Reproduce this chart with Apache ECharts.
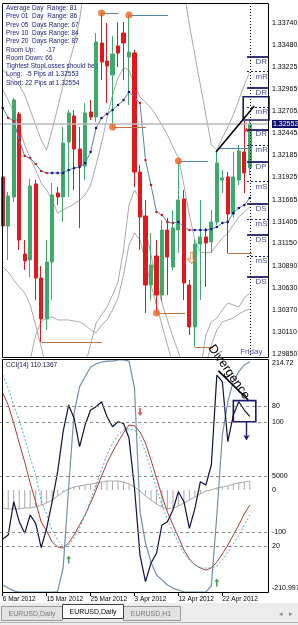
<!DOCTYPE html>
<html>
<head>
<meta charset="utf-8">
<script src="https://cdn.jsdelivr.net/npm/echarts@6/dist/echarts.min.js"></script>
<style>
html,body{margin:0;padding:0;background:#fff;overflow:hidden;}
#chart{width:298px;height:625px;}
</style>
</head>
<body>
<div id="chart"></div>
<script>
// ---------------- DATA ----------------
const dates = ['6 Mar 2012','7 Mar 2012','8 Mar 2012','9 Mar 2012','11 Mar 2012','12 Mar 2012','13 Mar 2012','14 Mar 2012','15 Mar 2012','16 Mar 2012','18 Mar 2012','19 Mar 2012','20 Mar 2012','21 Mar 2012','22 Mar 2012','23 Mar 2012','25 Mar 2012','26 Mar 2012','27 Mar 2012','28 Mar 2012','29 Mar 2012','30 Mar 2012','1 Apr 2012','2 Apr 2012','3 Apr 2012','4 Apr 2012','5 Apr 2012','6 Apr 2012','8 Apr 2012','9 Apr 2012','10 Apr 2012','11 Apr 2012','12 Apr 2012','13 Apr 2012','15 Apr 2012','16 Apr 2012','17 Apr 2012','18 Apr 2012','19 Apr 2012','20 Apr 2012','22 Apr 2012','23 Apr 2012','24 Apr 2012','25 Apr 2012','26 Apr 2012','27 Apr 2012'];

// [open, close, low, high]
const candles = [
[1.31931,1.31356,1.31016,1.32095],[1.31356,1.31708,1.30958,1.31755],[1.31696,1.32834,1.31638,1.32857],
[1.32669,1.31192,1.31075,1.32693],[1.31028,1.30946,1.30840,1.31192],[1.30958,1.31825,1.30758,1.31907],
[1.31849,1.30746,1.30489,1.31896],[1.30746,1.30266,1.29996,1.30887],[1.30266,1.30934,1.30137,1.31192],
[1.30934,1.31720,1.30489,1.31860],[1.31743,1.31696,1.31602,1.31813],[1.31696,1.32329,1.31403,1.32517],
[1.32341,1.32681,1.31696,1.32716],[1.32646,1.32259,1.31778,1.32716],[1.32259,1.32060,1.31333,1.32517],
[1.32060,1.32681,1.31896,1.32798],[1.32693,1.32634,1.32599,1.32834],[1.32634,1.33514,1.32576,1.33619],
[1.33502,1.33279,1.33068,1.33854],[1.33291,1.33232,1.32798,1.33736],[1.33127,1.33373,1.32517,1.33584],
[1.33467,1.33385,1.33220,1.33748],[1.33619,1.33502,1.33068,1.33748],[1.33338,1.33396,1.32775,1.33830],
[1.33385,1.31989,1.31813,1.33420],[1.31989,1.31462,1.31075,1.32071],[1.31473,1.30664,1.30336,1.31661],
[1.30664,1.30899,1.30489,1.31274],[1.31004,1.30547,1.30336,1.31192],[1.30547,1.31309,1.30465,1.31427],
[1.31309,1.30993,1.30547,1.31450],[1.30875,1.31333,1.30840,1.31544],[1.31309,1.31661,1.31040,1.32118],
[1.31673,1.30688,1.30489,1.31778],[1.30664,1.30172,1.30078,1.30723],[1.30172,1.31145,1.29937,1.31192],
[1.31145,1.31227,1.30489,1.31661],[1.31227,1.31157,1.30641,1.31333],[1.31169,1.31403,1.31040,1.31544],
[1.31403,1.32095,1.31368,1.32224],[1.31896,1.31919,1.31743,1.32013],[1.31931,1.31497,1.31040,1.31989],
[1.31497,1.31931,1.31450,1.32224],[1.31896,1.32236,1.31837,1.32306],[1.32224,1.31978,1.31743,1.32587],
[1.32036,1.32552,1.31954,1.32587]
];

const maLine = [1.32740,1.32623,1.32587,1.32365,1.32177,1.32153,1.32083,1.32001,1.31978,1.31978,1.31978,1.31978,1.32013,1.32036,1.32048,1.32095,1.32224,1.32505,1.32623,1.32669,1.32716,1.32775,1.32834,1.32927,1.32869,1.32798,1.32130,1.31837,1.31520,1.31485,1.31403,1.31391,1.31403,1.31344,1.31309,1.31309,1.31309,1.31309,1.31321,1.31344,1.31391,1.31403,1.31509,1.31567,1.31602,1.31684];

const bandA = [1.33185,1.33127,1.33068,1.33009,1.32892,1.32716,1.32540,1.32365,1.32248,1.32482,1.32740,1.33009,1.33244,1.33478,1.33772,1.34241,null,null,null,null,null,null,null,null,null,null,null,null,null,null,null,null,null,1.34123,1.33713,1.33361,1.33009,1.32658,1.32306,1.32248,1.32388,1.32517,1.32658,1.32834,1.33009,1.33162];
const bandB = [1.32951,1.32834,1.32693,1.32505,1.32306,1.32153,1.32013,1.31860,1.31778,1.31661,1.31509,1.31544,1.31579,1.31614,1.31661,1.31720,1.31837,1.32071,1.32329,1.32623,1.32892,1.33091,1.33209,1.33185,1.33009,1.32869,1.32810,1.32740,1.32646,1.32540,1.32423,1.32282,1.32153,1.31837,1.31485,1.31192,1.31051,1.31040,1.31051,1.31133,1.31215,1.31274,1.31368,1.31462,1.31520,1.31579];
const bandC = [1.30875,1.30817,1.30723,1.30641,1.30571,1.30430,1.30195,1.29938,1.29668,null,null,null,null,null,null,1.29727,1.29961,1.30219,1.30313,1.30406,1.30547,1.30700,1.31075,1.31602,1.31778,1.31661,1.31333,1.31016,1.30723,1.30453,1.30254,1.30055,1.29879,1.29668,null,null,1.29668,1.30078,1.30231,1.30277,1.30371,1.30453,1.30430,1.30406,1.30512,1.30571];
const bandD = [null,null,null,null,null,1.29785,1.30078,1.30231,1.30277,1.30289,1.30254,1.30254,1.30254,1.30242,1.30231,1.30195,1.30137,1.30102,1.30195,1.30254,1.30371,1.30512,1.30782,1.31133,1.31274,1.31192,1.30934,1.30664,1.30430,1.30195,1.29961,1.29727,null,null,null,null,null,1.29727,1.29961,1.30137,1.30231,1.30254,1.30277,1.30324,1.30359,1.30383];

const priceTicks = ['1.33740','1.33480','1.33225','1.32965','1.32705','1.32445','1.32185','1.31925','1.31665','1.31405','1.31150','1.30890','1.30630','1.30370','1.30110','1.29850'];
const currentPrice = 1.32552;

const pivotNames  = ['DR','mR','DR','mR','DR','mR','DP','mS','DS','mS','DS','mS','DS'];
const pivotLevels = [1.33341,1.33165,1.32982,1.32748,1.32490,1.32306,1.32110,1.31876,1.31622,1.31438,1.31251,1.31004,1.30762];

const swingHighs = [[18,1.33854],[23,1.33830],[32,1.32118]];
const swingLows  = [[20,1.32517],[28,1.30336]];
const highLines = [[18,21.1,1.33854],[23,30.1,1.33830],[32,37.4,1.32118],[39.2,45,1.32267]];
const lowLines  = [[20,26.1,1.32517],[28,33.2,1.30336],[7,18.1,1.29996],[35,38.3,1.29937],[41,45.4,1.31040]];
const trendLine = [[38.85,1.32224],[45.82,1.32763]];
const boxMain = [[43.8,1.32872],[48.68,1.32599]];
const lastBar = 45;

const infoLines = ['Average Day  Range: 81','Prev 01  Day  Range: 86','Prev 05  Days Range: 67','Prev 10  Days Range: 84','Prev 20  Days Range: 87','Room Up:      -17','Room Down: 66','Tightest StopLosses should be :','Long:  -5 Pips at 1.32553','Short: 22 Pips at 1.32554'];

// lower panel
const cci = [-112.8,-105.5,-44.9,-81.3,-102.4,-69.1,-84.2,-128.6,-93.3,-44.9,9.7,82.5,131.0,106.8,55.2,94.6,121.9,127.9,137.0,109.7,91.5,100.6,97.7,70.4,-20.5,-141.9,-190.4,-157.0,-138.8,-87.3,-81.3,-60.0,-26.7,-44.9,-93.3,-56.9,-8.5,-14.5,21.9,185.6,173.4,64.3,112.8,137.0,121.9,110.1367];
const oscBlue = [3.4,2.1,0.9,0.4,0.4,0.4,0.4,0.4,0.4,0.4,0.6,10.7,44.9,76.9,88.2,92.4,96.6,97.9,98.7,99.1,99.1,99.6,99.6,99.1,87.6,34.7,21.4,13.2,7.7,5.6,3.4,2.1,1.3,0.4,0.4,0.4,0.4,0.4,3.1,33.3,67.5,81.8,90.3,94.6,97.4,98.8];
const oscRed = [85.5,80.3,72.6,64.1,56.0,47.0,38.9,30.3,26.5,21.8,19.7,19.2,21.4,24.8,29.1,33.3,38.5,44.0,50.0,55.6,60.3,64.5,68.4,71.8,71.4,68.8,64.1,56.8,49.1,41.5,34.6,29.1,23.9,18.4,14.5,12.0,10.7,9.8,10.7,13.2,16.7,20.5,24.8,29.1,33.8,37.6];
const oscCyan = [93.2,87.6,80.3,73.9,66.2,57.7,50.4,39.7,33.3,26.9,22.6,20.1,20.5,23.5,27.8,33.3,39.7,46.2,52.6,59.0,64.1,67.5,69.7,70.1,69.7,66.2,60.3,52.6,44.9,37.6,31.2,26.1,21.4,17.1,14.1,12.0,10.7,10.7,10.7,11.5,14.1,17.5,20.9,24.8,29.1,33.3];
const hist = [-0.0009,-0.00095,-0.00095,-0.00095,-0.0009,-0.0009,-0.00085,-0.00075,-0.00065,-0.0005,-0.0003,-0.0001,0.00005,0.00015,0.0002,0.00025,0.0003,0.00035,0.0004,0.00045,0.00045,0.00045,0.0004,0.0003,0.00015,-0.00005,-0.0003,-0.0005,-0.0007,-0.00085,-0.00095,-0.0009,-0.0008,-0.00065,-0.0005,-0.00035,-0.0002,-0.00005,0,0.0001,0.00015,0.0002,0.0003,0.00035,0.0004,0.00045];

const oscLevels = [{v:80,t:'80'},{v:50,t:'5000'},{v:20,t:'20'}];
const cciLevels = [{v:100,t:'100'},{v:-100,t:'-100'}];
const cciMax = 214.72, cciMin = -210.997;
const cciTitle = 'CCI(14) 110.1367';
const divLine = [[39.3,94.9],[44.7,82.5]];
const divBox = [[42.0,82.2],[46.1,73.2]];
const divArrow = [[44.4,73.2],[44.4,65.4]];
const upArrows = [[12,14.3],[39,4.5]];
const downArrows = [[25,77.4]];

// ---------------- CHART ----------------
const FONT = '"Liberation Sans", Arial, sans-serif';
const NAVY = '#1c1c6e';
const cats = dates.concat(['','','']);
const NCAT = cats.length;

function grayLine(d){
  return {type:'line', xAxisIndex:0, yAxisIndex:0, data:d, symbol:'none', connectNulls:false,
    lineStyle:{color:'#a9a9a9', width:1}, z:1, silent:true};
}

const maData = maLine.map((v,i)=>{
  const prev = i===0 ? v : maLine[i-1];
  return {value:v, itemStyle:{color: v < prev ? '#c42020' : '#12127e'}};
});

const mlMain = [];
priceTicks.forEach(t=>mlMain.push({yAxis:parseFloat(t), lineStyle:{color:'rgba(0,0,0,0)', width:0},
  label:{show:true, position:'end', distance:3, formatter:t, fontSize:7, color:'#000', fontFamily:FONT}}));
mlMain.push({yAxis:currentPrice, lineStyle:{color:'#b8b8b8', width:1.5, type:'solid'},
  label:{show:true, position:'end', distance:3, formatter:currentPrice.toFixed(5), fontSize:7, color:'#fff',
    backgroundColor:'#0d0d6b', padding:[1,1,0,1], fontFamily:FONT}});
pivotLevels.forEach((p,i)=>{
  const solid = pivotNames[i][0] === 'D';
  mlMain.push([{coord:[44.5,p], lineStyle:{color:NAVY, width: solid?1.8:1, type: solid?'solid':[2,2]}},{coord:[48.5,p]}]);
});
highLines.forEach(l=>mlMain.push([{coord:[l[0],l[2]], lineStyle:{color:'#4f86ad', width:1, type:'solid'}},{coord:[l[1],l[2]]}]));
lowLines.forEach(l=>mlMain.push([{coord:[l[0],l[2]], lineStyle:{color:'#c4743e', width:1, type:'solid'}},{coord:[l[1],l[2]]}]));
mlMain.push([{coord:trendLine[0], lineStyle:{color:'#000', width:1.6, type:'solid'}},{coord:trendLine[1]}]);
mlMain.push({xAxis:lastBar, lineStyle:{color:'#000', width:1, type:[1,2]}});

const textMarks = [];
pivotLevels.forEach((p,i)=>textMarks.push({value:[45.95,p], label:{show:true, formatter:pivotNames[i], position:'right', distance:0, offset:[0,5], color:NAVY, fontSize:8, fontFamily:FONT}}));
textMarks.push({value:[47.4,1.29879], label:{show:true, formatter:'Friday', position:'left', distance:0, color:NAVY, fontSize:8, fontFamily:FONT}});
textMarks.push({value:[44.4,1.32447], label:{show:true, formatter:'*', position:'inside', color:'#e01010', fontSize:11, fontWeight:'bold', fontFamily:FONT}});

const mlOsc = oscLevels.map(l=>({yAxis:l.v, lineStyle:{color:'#8a8a8a', width:1, type:[3,3]},
  label:{show:true, position:'end', distance:3, formatter:l.t, fontSize:7, color:'#000', fontFamily:FONT}}));
const mlCci = cciLevels.map(l=>({yAxis:l.v, lineStyle:{color:'#8a8a8a', width:1, type:[3,3]},
  label:{show:true, position:'end', distance:3, formatter:l.t, fontSize:7, color:'#000', fontFamily:FONT}}));
mlCci.push({yAxis:cciMax, lineStyle:{color:'rgba(0,0,0,0)', width:0}, label:{show:true, position:'end', distance:3, offset:[0,4], formatter:String(cciMax), fontSize:7, color:'#000', fontFamily:FONT}});
mlCci.push({yAxis:cciMin, lineStyle:{color:'rgba(0,0,0,0)', width:0}, label:{show:true, position:'end', distance:3, offset:[0,-5], formatter:String(cciMin), fontSize:7, color:'#000', fontFamily:FONT}});

const ARROW = 'path://M5,0 L10,5 L6.6,5 L6.6,12 L3.4,12 L3.4,5 L0,5 Z';
const oscMarks = upArrows.map(p=>({value:p, symbolRotate:0, itemStyle:{color:'#1d8a3c'}}))
  .concat(downArrows.map(p=>({value:p, symbolRotate:180, itemStyle:{color:'#e02020'}})));

const graphics = [];
infoLines.forEach((t,i)=>graphics.push({type:'text', x:6, y:8.3+i*8.3, z:100, silent:true,
  style:{text:t, fill:'#1a1a7a', font:'6.5px '+FONT, verticalAlign:'middle'}}));
graphics.push({type:'text', x:6, y:365, z:100, silent:true, style:{text:cciTitle, fill:'#141440', font:'6.5px '+FONT, verticalAlign:'middle'}});
graphics.push({type:'rect', z:100, silent:true, shape:{x:2.5,y:3.5,width:266,height:354}, style:{fill:'none', stroke:'#000', lineWidth:1}});
graphics.push({type:'rect', z:100, silent:true, shape:{x:2.5,y:359.5,width:266,height:233}, style:{fill:'none', stroke:'#000', lineWidth:1}});
graphics.push({type:'text', x:229, y:372, rotation:-55*Math.PI/180, z:101, silent:true,
  style:{text:'Divergence', fill:'#000', font:'12.5px '+FONT, align:'center', verticalAlign:'middle'}});
// tab bar
graphics.push({type:'rect', z:90, silent:true, shape:{x:0,y:603,width:298,height:22}, style:{fill:'#ececec'}});
graphics.push({type:'rect', z:91, silent:true, shape:{x:1.5,y:606.5,width:61,height:14}, style:{fill:'#e2e2e2', stroke:'#9a9a9a', lineWidth:1}});
graphics.push({type:'text', x:32, y:614, z:92, silent:true, style:{text:'EURUSD,Daily', fill:'#7a7a7a', font:'7px '+FONT, align:'center', verticalAlign:'middle'}});
graphics.push({type:'rect', z:91, silent:true, shape:{x:123.5,y:606.5,width:57,height:14}, style:{fill:'#e2e2e2', stroke:'#9a9a9a', lineWidth:1}});
graphics.push({type:'text', x:151, y:614, z:92, silent:true, style:{text:'EURUSD,H1', fill:'#7a7a7a', font:'7px '+FONT, align:'center', verticalAlign:'middle'}});
graphics.push({type:'rect', z:93, silent:true, shape:{x:62.5,y:604.5,width:61,height:14}, style:{fill:'#fff', stroke:'#404040', lineWidth:1}});
graphics.push({type:'text', x:93, y:612, z:94, silent:true, style:{text:'EURUSD,Daily', fill:'#000', font:'7px '+FONT, align:'center', verticalAlign:'middle'}});
graphics.push({type:'text', x:281, y:614, z:92, silent:true, style:{text:'◂', fill:'#888', font:'7px '+FONT, align:'center', verticalAlign:'middle'}});
graphics.push({type:'text', x:291, y:614, z:92, silent:true, style:{text:'▸', fill:'#888', font:'7px '+FONT, align:'center', verticalAlign:'middle'}});
graphics.push({type:'line', z:92, silent:true, shape:{x1:0,y1:622.5,x2:298,y2:622.5}, style:{stroke:'#b4b4b4', lineWidth:1}});

const labelInterval = (i)=> i % 8 === 0 && i < dates.length;

const option = {
  animation:false,
  backgroundColor:'#fff',
  textStyle:{fontFamily:FONT},
  grid:[
    {left:0, top:3, width:269, height:355, containLabel:false, outerBoundsMode:'none'},
    {left:0, top:359, width:269, height:234, containLabel:false, outerBoundsMode:'none'}
  ],
  xAxis:[
    {type:'category', gridIndex:0, data:cats, boundaryGap:true, show:false},
    {type:'category', gridIndex:1, data:cats, boundaryGap:true,
      axisLine:{show:false},
      axisTick:{show:true, alignWithLabel:true, interval:labelInterval, length:3, lineStyle:{color:'#000'}},
      axisLabel:{show:true, interval:labelInterval, align:'left', fontSize:6.5, color:'#000', margin:3, fontFamily:FONT, hideOverlap:false},
      splitLine:{show:false}},
    {type:'value', gridIndex:0, min:-0.5, max:NCAT-0.5, show:false, position:'top'},
    {type:'value', gridIndex:1, min:-0.5, max:NCAT-0.5, show:false, position:'top'}
  ],
  yAxis:[
    {type:'value', gridIndex:0, min:1.29808, max:1.33971, show:false, splitLine:{show:false}},
    {type:'value', gridIndex:1, min:0, max:100, show:false, splitLine:{show:false}},
    {type:'value', gridIndex:1, min:cciMin, max:cciMax, show:false, splitLine:{show:false}},
    {type:'value', gridIndex:1, min:-0.00515, max:0.00655, show:false, splitLine:{show:false}}
  ],
  series:[
    grayLine(bandA), grayLine(bandB), grayLine(bandC), grayLine(bandD),
    {type:'candlestick', xAxisIndex:0, yAxisIndex:0, data:candles, barWidth:3.6, z:2, silent:true,
      itemStyle:{color:'#3dab6b', color0:'#e3171c', borderColor:'#3dab6b', borderColor0:'#e3171c', borderWidth:1}},
    {type:'line', xAxisIndex:0, yAxisIndex:0, data:maData, symbol:'circle', symbolSize:2.6, showSymbol:true, showAllSymbol:true,
      lineStyle:{color:'#5a7fb0', width:1}, z:3, silent:true},
    {type:'scatter', xAxisIndex:2, yAxisIndex:0, clip:false, z:6, silent:true,
      data:swingHighs.concat(swingLows), symbol:'circle', symbolSize:7, itemStyle:{color:'#f0641e'},
      markLine:{symbol:['none','none'], precision:6, silent:true, animation:false, label:{show:false}, data:mlMain},
      markArea:{silent:true, precision:6, data:[[{coord:boxMain[0], itemStyle:{color:'rgba(0,0,0,0)', borderColor:NAVY, borderWidth:1.6}},{coord:boxMain[1]}]]}},
    {type:'scatter', xAxisIndex:2, yAxisIndex:0, clip:false, z:7, silent:true,
      data:[[34.4,1.30981]], symbol:ARROW, symbolRotate:180, symbolSize:[8,11],
      itemStyle:{color:'rgba(0,0,0,0)', borderColor:'#f07a1e', borderWidth:1}},
    {type:'scatter', xAxisIndex:2, yAxisIndex:0, clip:false, z:8, silent:true,
      data:textMarks, symbolSize:1, itemStyle:{color:'rgba(0,0,0,0)'}},
    // lower panel
    {type:'bar', xAxisIndex:1, yAxisIndex:3, data:hist, barWidth:1, itemStyle:{color:'#a9a9a9'}, z:1, silent:true,
      markLine:{symbol:['none','none'], precision:6, silent:true, data:[{yAxis:0, lineStyle:{color:'rgba(0,0,0,0)', width:0},
        label:{show:true, position:'end', distance:3, formatter:'0', fontSize:7, color:'#000', fontFamily:FONT}}]}},
    {type:'line', xAxisIndex:1, yAxisIndex:3, data:hist, symbol:'none', lineStyle:{color:'#a9a9a9', width:1}, z:1, silent:true},
    {type:'line', xAxisIndex:1, yAxisIndex:1, data:oscBlue, symbol:'none', lineStyle:{color:'#6f8fae', width:1.2}, z:3, silent:true,
      markLine:{symbol:['none','none'], precision:4, silent:true, label:{show:false}, data:mlOsc}},
    {type:'line', xAxisIndex:1, yAxisIndex:1, data:oscRed, symbol:'none', lineStyle:{color:'#b2392e', width:1}, z:3, silent:true},
    {type:'line', xAxisIndex:1, yAxisIndex:1, data:oscCyan, symbol:'none', lineStyle:{color:'#3fb3c6', width:1, type:[2,2]}, z:3, silent:true},
    {type:'line', xAxisIndex:1, yAxisIndex:2, data:cci, symbol:'none', lineStyle:{color:'#0e0e44', width:1.2}, z:4, silent:true,
      markLine:{symbol:['none','none'], precision:4, silent:true, label:{show:false}, data:mlCci}},
    {type:'scatter', xAxisIndex:3, yAxisIndex:1, clip:false, z:6, silent:true,
      data:oscMarks, symbol:ARROW, symbolSize:[5,8],
      markLine:{symbol:['none','none'], precision:4, silent:true, label:{show:false}, data:[
        [{coord:divLine[0], lineStyle:{color:'#000', width:1.6, type:'solid'}},{coord:divLine[1]}],
        [{coord:divArrow[0], symbol:'none', lineStyle:{color:NAVY, width:1.4, type:'solid'}},{coord:divArrow[1], symbol:'arrow', symbolSize:5}]
      ]},
      markArea:{silent:true, data:[[{coord:divBox[0], itemStyle:{color:'rgba(0,0,0,0)', borderColor:NAVY, borderWidth:1.6}},{coord:divBox[1]}]]}}
  ],
  graphic:graphics
};

const chart = echarts.init(document.getElementById('chart'), null, {renderer:'canvas', width:298, height:625});
chart.setOption(option);
</script>
</body>
</html>
